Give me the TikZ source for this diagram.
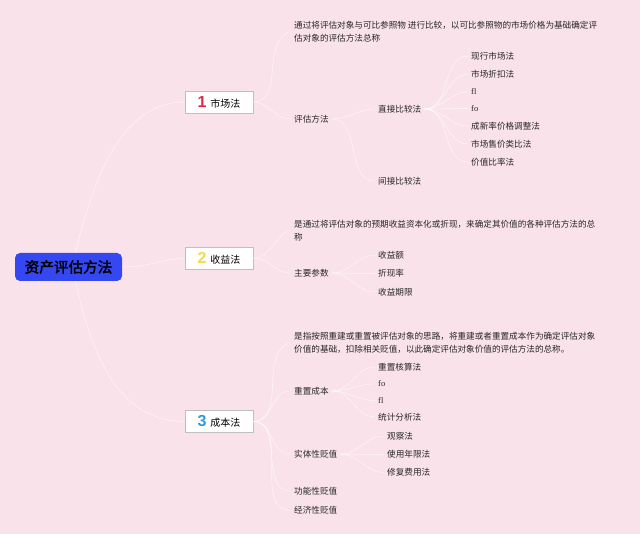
\documentclass[tikz,border=0pt]{standalone}
\usepackage{fontspec}
\setmainfont{Noto Sans CJK SC}
\newfontfamily\boldcjk[FakeBold=2.2]{Noto Sans CJK SC}
\newfontfamily\numfont{Liberation Sans}
\newfontfamily\serifx{Liberation Serif}
\definecolor{bgpink}{HTML}{F9E2EA}
\definecolor{rootblue}{HTML}{3447F0}
\definecolor{numred}{HTML}{E0284A}
\definecolor{numyellow}{HTML}{F4DA4C}
\definecolor{numblue}{HTML}{2C9BD9}
\begin{document}
\begin{tikzpicture}[x=1pt,y=-1pt,
  txt/.style={anchor=west,inner sep=0pt,font=\fontsize{8.6}{13}\selectfont,text=black!85},
  desc/.style={txt,align=left},
  rootbox/.style={fill=rootblue,rounded corners=5pt,minimum width=107pt,minimum height=28pt,inner sep=0pt,font=\fontsize{14.6}{16}\boldcjk},
  branchbox/.style={fill=white,draw=black!25,line width=0.6pt,minimum width=68pt,minimum height=22pt,inner sep=0pt,font=\fontsize{10}{12}\selectfont},
  conn/.style={draw=white,opacity=0.6,line width=0.6pt}
]
\fill[bgpink] (0,0) rectangle (640,534);
\useasboundingbox (0,0) rectangle (640,534);

% root
\node[rootbox] (root) at (68.5,267) {资产评估方法};

% branches
\node[branchbox] (b1) at (219,102) {{\numfont\bfseries\fontsize{16}{16}\selectfont\color{numred}1}\hspace{4pt}市场法};
\node[branchbox] (b2) at (219,258) {{\numfont\bfseries\fontsize{16}{16}\selectfont\color{numyellow}2}\hspace{4pt}收益法};
\node[branchbox] (b3) at (219,421.5) {{\numfont\bfseries\fontsize{16}{16}\selectfont\color{numblue}3}\hspace{4pt}成本法};

% branch 1
\node[desc] (d1) at (294,31.5) {通过将评估对象与可比参照物 进行比较，以可比参照物的市场价格为基础确定评\\估对象的评估方法总称};
\node[txt] (pg) at (294,119) {评估方法};
\node[txt] (zj) at (378,109) {直接比较法};
\node[txt] (jj) at (378,181) {间接比较法};
\node[txt] (m1) at (471,56) {现行市场法};
\node[txt] (m2) at (471,74.5) {市场折扣法};
\node[txt,font=\fontsize{8.5}{10}\serifx] (m3) at (471,92) {fl};
\node[txt,font=\fontsize{8.5}{10}\serifx] (m4) at (471,108.5) {fo};
\node[txt] (m5) at (471,126) {成新率价格调整法};
\node[txt] (m6) at (471,144) {市场售价类比法};
\node[txt] (m7) at (471,162) {价值比率法};

% branch 2
\node[desc] (d2) at (294,230.5) {是通过将评估对象的预期收益资本化或折现，来确定其价值的各种评估方法的总\\称};
\node[txt] (zy) at (294,273) {主要参数};
\node[txt] (s1) at (378,255) {收益额};
\node[txt] (s2) at (378,273.5) {折现率};
\node[txt] (s3) at (378,292) {收益期限};

% branch 3
\node[desc] (d3) at (294,342.5) {是指按照重建或重置被评估对象的思路，将重建或者重置成本作为确定评估对象\\价值的基础，扣除相关贬值，以此确定评估对象价值的评估方法的总称。};
\node[txt] (cz) at (294,391) {重置成本};
\node[txt] (c1) at (378,367) {重置核算法};
\node[txt,font=\fontsize{8.5}{10}\serifx] (c2) at (378,384) {fo};
\node[txt,font=\fontsize{8.5}{10}\serifx] (c3) at (378,400.5) {fl};
\node[txt] (c4) at (378,417) {统计分析法};
\node[txt] (st) at (294,454) {实体性贬值};
\node[txt] (t1) at (387,436) {观察法};
\node[txt] (t2) at (387,454) {使用年限法};
\node[txt] (t3) at (387,472.5) {修复费用法};
\node[txt] (gn) at (294,491) {功能性贬值};
\node[txt] (jx) at (294,510) {经济性贬值};

% connectors root -> branches
\draw[conn] (root.north) ++(7,0) coordinate (rt) .. controls (95,170) and (125,102) .. (b1.west);
\draw[conn] (root.east) to[out=0,in=185] (b2.west);
\draw[conn] (root.south) ++(7,0) coordinate (rb) .. controls (95,370) and (125,421) .. (b3.west);

% branch 1
\draw[conn] (b1.east) to[out=0,in=200] ([xshift=-4pt]d1.west);
\draw[conn] (b1.east) to[out=0,in=180] ([xshift=-4pt]pg.west);
\draw[conn] ([xshift=3pt]pg.east) to[out=0,in=180] ([xshift=-3pt]zj.west);
\draw[conn] ([xshift=3pt]pg.east) to[out=0,in=180] ([xshift=-3pt]jj.west);
\foreach \m in {m1,m2,m3,m4,m5,m6,m7}
  \draw[conn] ([xshift=3pt]zj.east) to[out=0,in=180] ([xshift=-3pt]\m.west);

% branch 2
\draw[conn] (b2.east) to[out=0,in=200] ([xshift=-4pt]d2.west);
\draw[conn] (b2.east) to[out=0,in=180] ([xshift=-4pt]zy.west);
\foreach \m in {s1,s2,s3}
  \draw[conn] ([xshift=3pt]zy.east) to[out=0,in=180] ([xshift=-3pt]\m.west);

% branch 3
\draw[conn] (b3.east) to[out=0,in=200] ([xshift=-4pt]d3.west);
\foreach \m in {cz,st,gn,jx}
  \draw[conn] (b3.east) to[out=0,in=180] ([xshift=-4pt]\m.west);
\foreach \m in {c1,c2,c3,c4}
  \draw[conn] ([xshift=3pt]cz.east) to[out=0,in=180] ([xshift=-3pt]\m.west);
\foreach \m in {t1,t2,t3}
  \draw[conn] ([xshift=3pt]st.east) to[out=0,in=180] ([xshift=-3pt]\m.west);
\end{tikzpicture}
\end{document}
